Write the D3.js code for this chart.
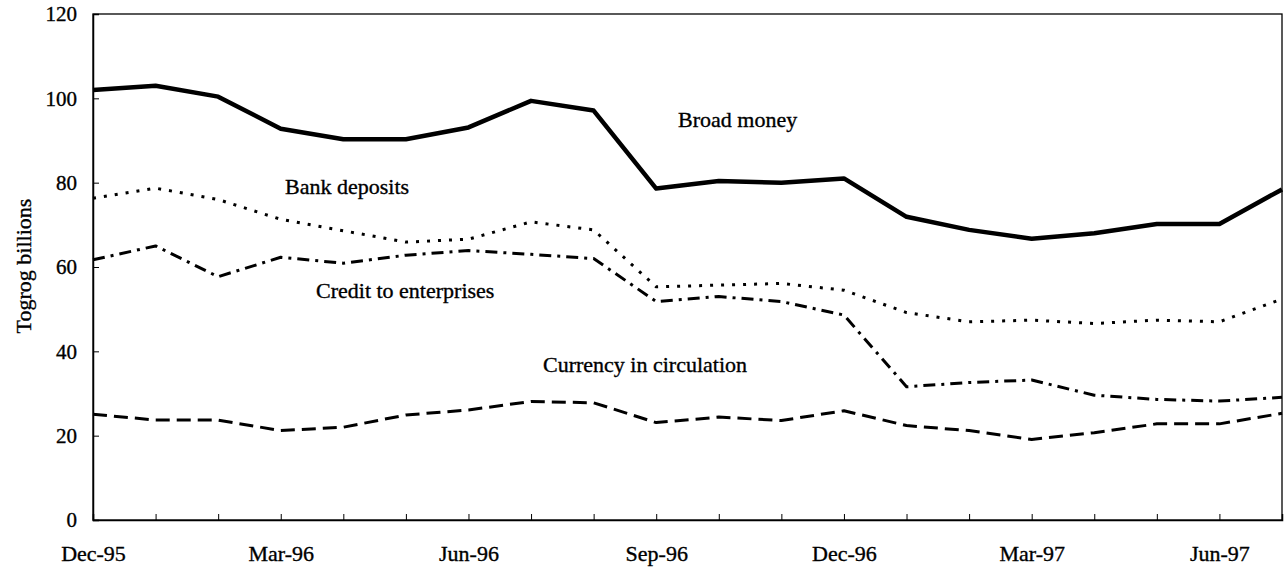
<meta charset="utf-8">
<head>
    <script type="text/javascript" src="https://cdn.jsdelivr.net/npm/d3@7/dist/d3.min.js"></script>
    <style>
        body { margin: 0; background: #ffffff; }
        text { font-family: "Liberation Serif", "Times New Roman", serif; fill: #000000; stroke: #000000; stroke-width: 0.35; }
    </style>
</head>
<body>
    <svg width=1286 height=571></svg>
</body>
<script>
    let months = ["Dec-95", "Jan-96", "Feb-96", "Mar-96", "Apr-96", "May-96", "Jun-96", "Jul-96", "Aug-96", "Sep-96",
        "Oct-96", "Nov-96", "Dec-96", "Jan-97", "Feb-97", "Mar-97", "Apr-97", "May-97", "Jun-97", "Jul-97"];
    let tickLabels = ["Dec-95", "Mar-96", "Jun-96", "Sep-96", "Dec-96", "Mar-97", "Jun-97"];
    let yTicks = [0, 20, 40, 60, 80, 100, 120];

    let broadMoney = [102.0, 103.0, 100.4, 92.8, 90.3, 90.3, 93.1, 99.4, 97.1, 78.6,
        80.4, 80.0, 81.0, 71.9, 68.8, 66.7, 68.0, 70.2, 70.2, 78.4];
    let bankDeposits = [76.3, 78.7, 76.0, 71.3, 68.6, 65.9, 66.6, 70.7, 68.8, 55.3,
        55.7, 56.1, 54.5, 49.2, 47.0, 47.4, 46.6, 47.4, 47.0, 52.4];
    let credit = [61.7, 65.0, 57.7, 62.3, 60.9, 62.8, 63.9, 63.0, 62.0, 51.8,
        53.0, 51.8, 48.6, 31.6, 32.6, 33.2, 29.6, 28.6, 28.2, 29.1];
    let currency = [25.1, 23.7, 23.7, 21.2, 22.0, 24.9, 26.1, 28.1, 27.8, 23.1,
        24.4, 23.6, 25.9, 22.4, 21.2, 19.1, 20.7, 22.8, 22.8, 25.3];

    let margin = { top: 14, right: 4, bottom: 51, left: 93 };
    let width = 1286 - margin.left - margin.right;
    let height = 571 - margin.top - margin.bottom;

    let svg = d3.select('svg');
    let g = svg.append("g")
        .attr("transform", `translate(${margin.left}, ${margin.top})`);

    let x = d3.scalePoint()
        .domain(months)
        .range([0, width]);

    let y = d3.scaleLinear()
        .domain([0, 120])
        .range([height, 0]);

    // frame
    g.append("rect")
        .attr("width", width)
        .attr("height", height)
        .attr("style", "fill: none; stroke: #000000; stroke-width: 1.3");

    // x axis, ticks every month pointing inwards
    let xAxis = d3.axisBottom(x)
        .tickSize(-6)
        .tickFormat(function (d) { return tickLabels.includes(d) ? d : ""; });

    let gx = g.append("g")
        .attr("transform", `translate(0, ${height})`)
        .call(xAxis);
    gx.select(".domain").attr("stroke-width", 1.5);
    gx.selectAll("text")
        .attr("y", 41)
        .attr("dy", null)
        .attr("font-size", 22)
        .attr("font-family", null);

    let yAxis = d3.axisLeft(y)
        .tickValues(yTicks)
        .tickSize(-6);

    let gy = g.append("g").call(yAxis);
    gy.select(".domain").attr("stroke-width", 1.5);
    gy.selectAll("text")
        .attr("x", -16)
        .attr("dy", "0.33em")
        .attr("font-size", 21)
        .attr("font-family", null);

    // y axis title
    svg.append("text")
        .attr("transform", `translate(31, 266) rotate(-90)`)
        .attr("text-anchor", "middle")
        .attr("font-size", 22)
        .text("Togrog billions");

    let line = d3.line()
        .x(function (d, i) { return x(months[i]); })
        .y(function (d) { return y(d); });

    let series = [
        { values: broadMoney, width: 4.5, dash: null },
        { values: bankDeposits, width: 3, dash: "3,8" },
        { values: credit, width: 3, dash: "12,6,3,6" },
        { values: currency, width: 3, dash: "14,7" }
    ];

    g.selectAll(".series")
        .data(series)
        .enter()
        .append("path")
        .attr("class", "series")
        .attr("d", function (d) { return line(d.values); })
        .attr("fill", "none")
        .attr("stroke", "#000000")
        .attr("stroke-width", function (d) { return d.width; })
        .attr("stroke-dasharray", function (d) { return d.dash; })
        .attr("stroke-linejoin", "round");

    // series labels
    let labels = [
        { text: "Broad money", x: 678, y: 127 },
        { text: "Bank deposits", x: 285, y: 194 },
        { text: "Credit to enterprises", x: 316, y: 298 },
        { text: "Currency in circulation", x: 543, y: 372 }
    ];

    svg.selectAll(".label")
        .data(labels)
        .enter()
        .append("text")
        .attr("class", "label")
        .attr("x", function (d) { return d.x; })
        .attr("y", function (d) { return d.y; })
        .attr("font-size", 22)
        .text(function (d) { return d.text; });
</script>
